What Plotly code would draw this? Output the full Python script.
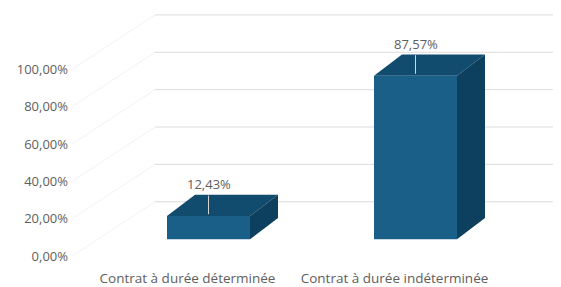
import plotly.graph_objects as go

# ---------------- data ----------------
categories = ["Contrat à durée déterminée", "Contrat à durée indéterminée"]
values = [12.43, 87.57]
value_labels = ["12,43%", "87,57%"]
y_ticks = [0, 20, 40, 60, 80, 100]
y_tick_labels = ["0,00%", "20,00%", "40,00%", "60,00%", "80,00%", "100,00%"]

# ---------------- geometry / style ----------------
OFF = 8               # page body margin of the html page
W, H = 561 - OFF, 287 - OFF
ML, MR, MT, MB = 61, 0, 0, 20
PX_X = 207.0          # pixels per category step
PX_Y = 1.89           # pixels per percentage point
X0_PX = 208.5 - OFF   # pixel x of first category (front face centre)
ZERO_PX = 242.0 - OFF # pixel y of 0 % on the front plane

BAR_W = 83 / PX_X
DEPTH_X = 28 / PX_X
DEPTH_Y = 21.5 / PX_Y
WALL_BACK_X = (155 - OFF - X0_PX) / PX_X
WALL_FRONT_X = (72 - OFF - X0_PX) / PX_X
BACK_DY = 38 / PX_Y
LABEL_DY = 17 / PX_Y

FRONT = "#1a5f88"
TOP = "#114b6e"
SIDE = "#0d3f5f"
TEXT = "#5e5e5e"
GRID = "#dcdcdc"
WALL = "#f2f2f2"
FONT = "Open Sans"

xs = list(range(len(categories)))
x_range = [(ML - X0_PX) / PX_X, (W - MR - X0_PX) / PX_X]
y_range = [(ZERO_PX - (H - MB)) / PX_Y, (ZERO_PX - MT) / PX_Y]

fig = go.Figure()

# front faces
fig.add_trace(go.Bar(x=xs, y=values, width=BAR_W, marker=dict(color=FRONT, line=dict(width=0)),
                     hoverinfo="skip", showlegend=False))

# top and side faces
for xi, v in zip(xs, values):
    l, r = xi - BAR_W / 2, xi + BAR_W / 2
    fig.add_trace(go.Scatter(
        x=[l, r, r + DEPTH_X, l + DEPTH_X, l],
        y=[v, v, v + DEPTH_Y, v + DEPTH_Y, v],
        fill="toself", fillcolor=TOP, mode="lines", line=dict(width=0, color=TOP),
        hoverinfo="skip", showlegend=False))
    fig.add_trace(go.Scatter(
        x=[r, r + DEPTH_X, r + DEPTH_X, r, r],
        y=[v, v + DEPTH_Y, DEPTH_Y, 0, v],
        fill="toself", fillcolor=SIDE, mode="lines", line=dict(width=0, color=SIDE),
        hoverinfo="skip", showlegend=False))
    # leader line
    fig.add_trace(go.Scatter(
        x=[xi, xi], y=[v + 11, v + 1], mode="lines",
        line=dict(color="#d5d5d5", width=1), hoverinfo="skip", showlegend=False))

# back wall gridlines and left wall lines
shapes = []
for t in y_ticks:
    shapes.append(dict(type="line", xref="x", yref="y", layer="below",
                       x0=WALL_BACK_X, x1=x_range[1], y0=t + BACK_DY, y1=t + BACK_DY,
                       line=dict(color=GRID, width=1)))
    shapes.append(dict(type="line", xref="x", yref="y", layer="below",
                       x0=WALL_FRONT_X, x1=WALL_BACK_X, y0=t - LABEL_DY, y1=t + BACK_DY,
                       line=dict(color=WALL, width=1)))

annotations = []
for xi, v, lab in zip(xs, values, value_labels):
    annotations.append(dict(x=xi, y=v + 17, xref="x", yref="y", text=lab, showarrow=False,
                            font=dict(family=FONT, size=13, color=TEXT)))

fig.update_layout(
    width=W, height=H,
    margin=dict(l=ML, r=MR, t=MT, b=MB),
    paper_bgcolor="white", plot_bgcolor="white",
    shapes=shapes, annotations=annotations,
    showlegend=False,
    xaxis=dict(range=x_range, tickvals=xs, ticktext=categories, showgrid=False, zeroline=False,
               showline=False, ticks="", ticklabelshift=-21, ticklabelstandoff=4,
               tickfont=dict(family=FONT, size=13.5, color=TEXT), fixedrange=True),
    yaxis=dict(range=y_range, tickvals=y_ticks, ticktext=y_tick_labels, showgrid=False,
               zeroline=False, showline=False, ticks="", ticklabelshift=17,
               tickfont=dict(family=FONT, size=13, color=TEXT), fixedrange=True),
)

fig.write_html("out.html")
